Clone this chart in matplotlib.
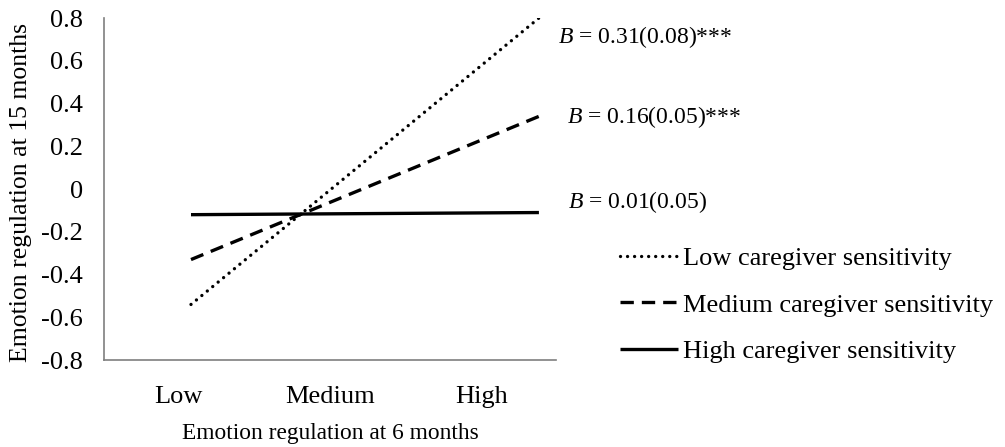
import numpy as np
import matplotlib
matplotlib.use("Agg")
import matplotlib.pyplot as plt

plt.rcParams['font.family'] = ['Liberation Serif', 'DejaVu Serif']
plt.rcParams['mathtext.fontset'] = 'custom'
plt.rcParams['mathtext.it'] = 'Liberation Serif:italic'
plt.rcParams['mathtext.rm'] = 'Liberation Serif'

# data
categories = ["Low", "Medium", "High"]
low_sens = [-0.54, 0.13, 0.80]
medium_sens = [-0.33, 0.005, 0.34]
high_sens = [-0.12, -0.115, -0.11]
series_names = ["Low caregiver sensitivity", "Medium caregiver sensitivity",
                "High caregiver sensitivity"]
slope_labels = [r"$B$ = 0.31(0.08)***", r"$B$ = 0.16(0.05)***", r"$B$ = 0.01(0.05)"]
y_ticks = [-0.8, -0.6, -0.4, -0.2, 0, 0.2, 0.4, 0.6, 0.8]

fig = plt.figure(figsize=(10.05, 4.47), dpi=100)
ax = fig.add_axes([0.1035, 0.1946, 0.4497, 0.765])

x = np.arange(len(categories))
lw = 2.4
l1, = ax.plot(x, low_sens, color='black', lw=lw, linestyle=(0, (0.01, 2.1)),
              dash_capstyle='round')
l2, = ax.plot(x, medium_sens, color='black', lw=lw, linestyle=(0, (4.0, 2.4)))
l3, = ax.plot(x, high_sens, color='black', lw=lw, solid_capstyle='butt')

# slope annotations next to the line ends
ax.text(2.11, 0.71, slope_labels[0], fontsize=17, va='center', ha='left')
ax.text(2.16, 0.335, slope_labels[1], fontsize=17, va='center', ha='left')
ax.text(2.17, -0.06, slope_labels[2], fontsize=17, va='center', ha='left')

ax.set_xlim(-0.5, 2.098)
ax.set_ylim(-0.8, 0.8)
ax.set_yticks(y_ticks)
ax.set_yticklabels(["0" if v == 0 else f"{v:.1f}" for v in y_ticks])
# category labels sit a bit left of the line points in the original
ax.set_xticks([-0.075, 0.80, 1.67])
ax.set_xticklabels(categories)
ax.tick_params(axis='both', length=0, labelsize=19)
ax.tick_params(axis='y', pad=15)
ax.tick_params(axis='x', pad=19)

for side in ['top', 'right']:
    ax.spines[side].set_visible(False)
for side in ['left', 'bottom']:
    ax.spines[side].set_color('#7f7f7f')
    ax.spines[side].set_linewidth(1.2)

ax.set_xlabel("Emotion regulation at 6 months", fontsize=16.8)
ax.xaxis.set_label_coords(0.5, -0.185)
ax.set_ylabel("Emotion regulation at 15 months", fontsize=18.5)
ax.yaxis.set_label_coords(-0.159, 0.49)

fig.legend([l1, l2, l3], series_names, loc='center left',
           bbox_to_anchor=(0.617, 0.318), bbox_transform=fig.transFigure,
           frameon=False, fontsize=19, handlelength=2.2, handletextpad=0.19,
           labelspacing=0.86, borderpad=0, borderaxespad=0)

fig.savefig("out.png", dpi=100)
